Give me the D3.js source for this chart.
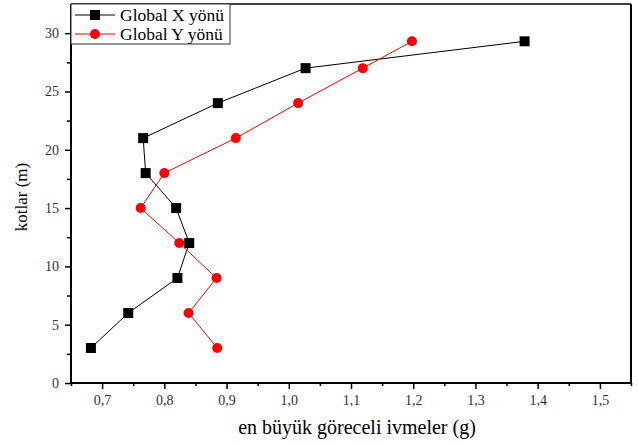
<!DOCTYPE html>
<html><head><meta charset="utf-8">
<script src="https://cdn.jsdelivr.net/npm/d3@7/dist/d3.min.js"></script>
<style>body{margin:0;background:#fff}svg{display:block}</style>
</head><body>
<svg id="c" width="638" height="446"></svg>
<script>
const heights = [3, 6, 9, 12, 15, 18, 21, 24, 27, 29.3];
const globalX = [0.682, 0.742, 0.821, 0.840, 0.819, 0.770, 0.766, 0.886, 1.027, 1.379];
const globalY = [0.885, 0.839, 0.884, 0.824, 0.762, 0.800, 0.915, 1.015, 1.119, 1.198];
const seriesNames = ["Global X yönü", "Global Y yönü"];
const xTicks = [0.7, 0.8, 0.9, 1.0, 1.1, 1.2, 1.3, 1.4, 1.5];
const yTicks = [0, 5, 10, 15, 20, 25, 30];

const svg = d3.select("#c");
const m = {l: 71, r: 631, t: 4, b: 383};
const x = d3.scaleLinear().domain([0.65, 1.55]).range([m.l, m.r]);
const y = d3.scaleLinear().domain([0, 32.5]).range([m.b, m.t]);
const font = "'Liberation Serif','Times New Roman',serif";

// frame top/right
svg.append("line").attr("x1", m.l).attr("x2", m.r).attr("y1", m.t).attr("y2", m.t).attr("stroke", "#000").attr("stroke-width", 1.5);
svg.append("line").attr("x1", m.r).attr("x2", m.r).attr("y1", m.t).attr("y2", m.b).attr("stroke", "#000").attr("stroke-width", 2);

// axes with minor ticks
const xMinor = d3.range(0.65, 1.551, 0.1).map(v => +v.toFixed(2));
const yMinor = d3.range(2.5, 32.5, 5);
const xa = svg.append("g").attr("transform", `translate(0,${m.b})`)
  .call(d3.axisBottom(x).tickValues(xTicks).tickFormat(d => d3.format(".1f")(d).replace(".", ",")).tickSize(6).tickPadding(6));
svg.append("g").attr("transform", `translate(0,${m.b})`)
  .call(d3.axisBottom(x).tickValues(xMinor).tickFormat("").tickSize(3))
  .call(g => g.select(".domain").remove());
const ya = svg.append("g").attr("transform", `translate(${m.l},0)`)
  .call(d3.axisLeft(y).tickValues(yTicks).tickSize(6).tickPadding(6));
svg.append("g").attr("transform", `translate(${m.l},0)`)
  .call(d3.axisLeft(y).tickValues(yMinor).tickFormat("").tickSize(4))
  .call(g => g.select(".domain").remove());
svg.selectAll(".domain").attr("stroke-width", 2);
svg.selectAll(".tick line").attr("stroke-width", 1.5);
svg.selectAll(".tick text").attr("font-family", font).attr("font-size", 14).attr("fill", "#333");
xa.select(".domain").attr("d", `M${m.l},0H${m.r}`);
ya.select(".domain").attr("d", `M0,${m.b}V${m.t}`);

// lines
const data = [
  {vals: globalX, color: "#000", shape: "square"},
  {vals: globalY, color: "#ff0000", shape: "circle"}
];
const line = d3.line().x(d => x(d[0])).y(d => y(d[1]));
data.forEach(s => {
  const pts = s.vals.map((v, i) => [v, heights[i]]);
  svg.append("path").attr("d", line(pts)).attr("fill", "none").attr("stroke", s.color).attr("stroke-width", 1);
  if (s.shape === "square") {
    svg.selectAll(null).data(pts).enter().append("rect")
      .attr("x", d => x(d[0]) - 5).attr("y", d => y(d[1]) - 5).attr("width", 10).attr("height", 10).attr("fill", s.color);
  } else {
    svg.selectAll(null).data(pts).enter().append("circle")
      .attr("cx", d => x(d[0])).attr("cy", d => y(d[1])).attr("r", 5).attr("fill", s.color);
  }
});

// legend
const lg = svg.append("g");
lg.append("rect").attr("x", m.l).attr("y", m.t).attr("width", 159).attr("height", 40).attr("fill", "#fff").attr("stroke", "#333").attr("stroke-width", 1);
data.forEach((s, i) => {
  const cy = 15 + i * 19;
  lg.append("line").attr("x1", 75).attr("x2", 115).attr("y1", cy).attr("y2", cy).attr("stroke", s.color).attr("stroke-width", 1);
  if (s.shape === "square") lg.append("rect").attr("x", 90).attr("y", cy - 5).attr("width", 10).attr("height", 10).attr("fill", s.color);
  else lg.append("circle").attr("cx", 95).attr("cy", cy).attr("r", 5).attr("fill", s.color);
  lg.append("text").attr("x", 120).attr("y", cy + 5.5).attr("font-family", font).attr("font-size", 17.5).attr("fill", "#000").text(seriesNames[i]);
});

// axis titles
svg.append("text").attr("x", 357).attr("y", 434).attr("text-anchor", "middle").attr("font-family", font).attr("font-size", 20).text("en büyük göreceli ivmeler (g)");
svg.append("text").attr("transform", "translate(27,197) rotate(-90)").attr("text-anchor", "middle").attr("font-family", font).attr("font-size", 17).text("kotlar (m)");
</script>
</body></html>
